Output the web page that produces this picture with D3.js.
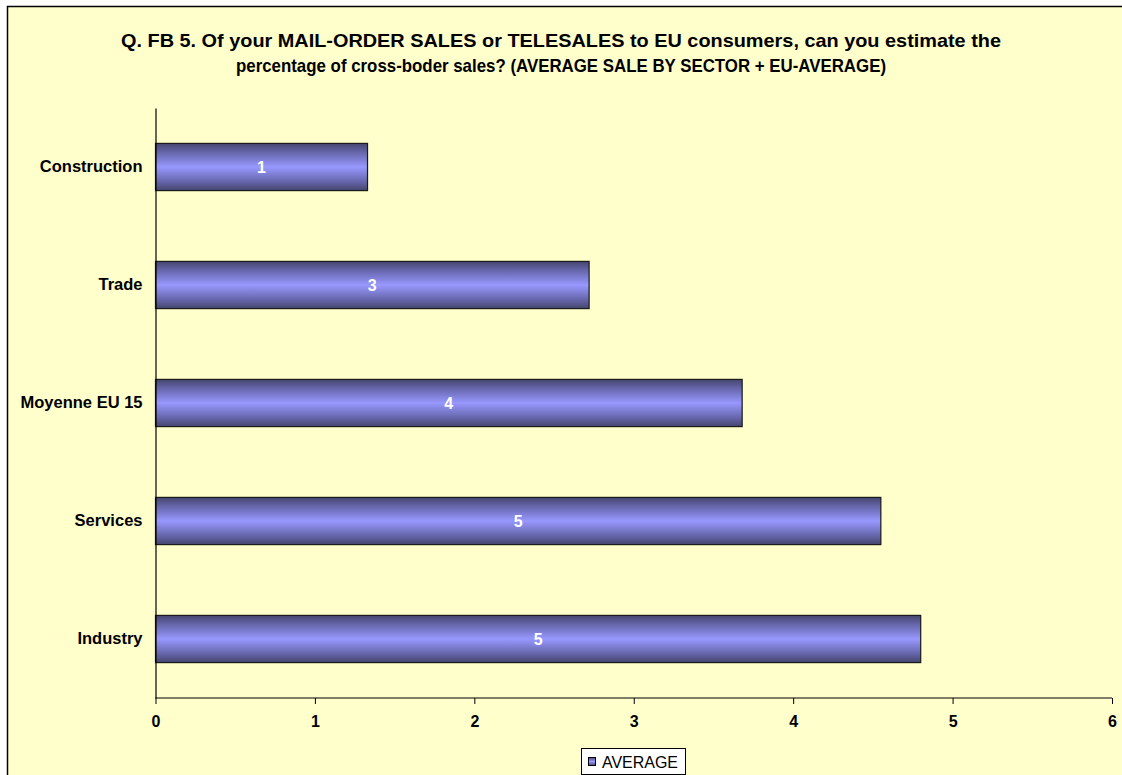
<!DOCTYPE html>
<html><head><meta charset="utf-8">
<script src="https://cdn.jsdelivr.net/npm/d3@7"></script>
<style>html,body{margin:0;padding:0;background:#fff;}svg{display:block;}</style>
</head><body>
<svg id="chart" width="1122" height="775"></svg>
<script>
const categories = ["Construction", "Trade", "Moyenne EU 15", "Services", "Industry"];
const values = [1.33, 2.72, 3.68, 4.55, 4.80];
const xTicks = [0, 1, 2, 3, 4, 5, 6];
const seriesName = "AVERAGE";
const titleLines = [
  "Q. FB 5. Of your MAIL-ORDER SALES or TELESALES to EU consumers, can you estimate the",
  "percentage of cross-boder sales? (AVERAGE SALE BY SECTOR + EU-AVERAGE)"
];
const titleWidths = [880, 650];

const svg = d3.select("#chart");
const font = "Liberation Sans, Arial, sans-serif";

const defs = svg.append("defs");
const g1 = defs.append("linearGradient").attr("id","barGrad").attr("x1",0).attr("y1",0).attr("x2",0).attr("y2",1);
[[0,"#45456e"],[0.18,"#6464a8"],[0.5,"#9898ff"],[0.82,"#6464a8"],[1,"#45456e"]]
  .forEach(([o,c]) => g1.append("stop").attr("offset",o).attr("stop-color",c));

// chart area background + border
svg.append("rect").attr("x",7.5).attr("y",6.5).attr("width",1130).attr("height",790)
  .attr("fill","#ffffcc").attr("stroke","#000").attr("stroke-width",1.5);

// title
svg.append("g").selectAll("text").data(titleLines).join("text")
  .attr("x",561).attr("y",(d,i)=>47+i*25)
  .attr("text-anchor","middle").attr("font-family",font).attr("font-weight","bold")
  .attr("font-size","19px").attr("fill","#000")
  .attr("textLength",(d,i)=>titleWidths[i]).attr("lengthAdjust","spacingAndGlyphs")
  .text(d=>d);

const x = d3.scaleLinear().domain([0,6]).range([155.5,1112]);
const y = d3.scaleBand().domain(categories).range([108,698]).paddingInner(0.6).paddingOuter(0.3);

// bars
const bars = svg.append("g");
bars.selectAll("rect").data(categories).join("rect")
  .attr("x",x(0)).attr("y",d=>y(d))
  .attr("width",(d,i)=>x(values[i])-x(0)).attr("height",y.bandwidth())
  .attr("fill","url(#barGrad)").attr("stroke","#1a1a1a").attr("stroke-width",1.2);

bars.selectAll("text").data(categories).join("text")
  .attr("x",(d,i)=>(x(0)+x(values[i]))/2).attr("y",d=>y(d)+y.bandwidth()/2)
  .attr("dy","0.36em").attr("text-anchor","middle")
  .attr("font-family",font).attr("font-weight","bold").attr("font-size","16px").attr("fill","#fff")
  .text((d,i)=>d3.format(".0f")(values[i]));

// x axis
const xAxis = svg.append("g").attr("transform","translate(0,698)")
  .call(d3.axisBottom(x).tickValues(xTicks).tickFormat(d3.format("d")).tickSize(6).tickPadding(12));
xAxis.select(".domain").attr("stroke","#000").attr("stroke-width",1.2).attr("d","M155.5,0H1112");
xAxis.selectAll(".tick line").attr("stroke","#000").attr("y1",0).attr("y2",6);
xAxis.selectAll(".tick text").attr("font-family",font).attr("font-weight","bold").attr("font-size","16px").attr("fill","#000");

// y axis
const yAxis = svg.append("g").attr("transform","translate(155.5,0)")
  .call(d3.axisLeft(y).tickSize(0).tickPadding(13));
yAxis.select(".domain").attr("stroke","#000").attr("stroke-width",1.2);
yAxis.selectAll(".tick text").attr("font-family",font).attr("font-weight","bold").attr("font-size","16.5px").attr("fill","#000");

// legend
const lg = svg.append("g");
lg.append("rect").attr("x",581.5).attr("y",748.5).attr("width",104).attr("height",26)
  .attr("fill","#fff").attr("stroke","#000").attr("stroke-width",1);
lg.append("rect").attr("x",588.5).attr("y",757.5).attr("width",7).attr("height",8)
  .attr("fill","url(#barGrad)").attr("stroke","#000").attr("stroke-width",1);
lg.append("text").attr("x",602).attr("y",762).attr("dy","0.36em")
  .attr("font-family",font).attr("font-size","16px").attr("fill","#000").attr("textLength",76)
  .attr("lengthAdjust","spacingAndGlyphs").text(seriesName);
</script>
</body></html>
